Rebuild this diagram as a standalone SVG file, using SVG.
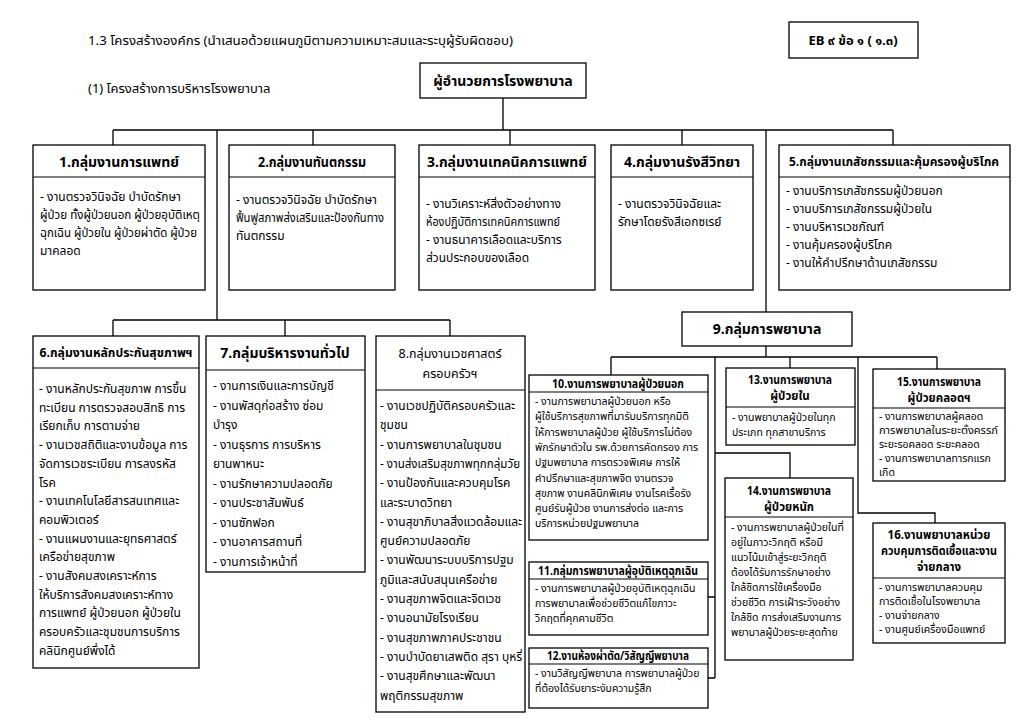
<svg xmlns="http://www.w3.org/2000/svg" width="1024" height="723" viewBox="0 0 1024 723">
<style>
text{font-family:'Noto Sans Thai','Noto Sans','DejaVu Sans','Liberation Sans',sans-serif;fill:#000}
.box{fill:#fff;stroke:#000;stroke-width:1.3}
.hl{stroke:#000;stroke-width:1.2}
.cn{fill:none;stroke:#000;stroke-width:1.3}
.t{font-size:14px;font-weight:bold;text-anchor:middle}
.ts{font-size:11.5px;font-weight:bold;text-anchor:middle}
.b{font-size:12px}
.s{font-size:10.5px}
.h{font-size:13px}
</style>
<rect width="1024" height="723" fill="#fff"/>
<text class="h" x="88" y="45" textLength="425" lengthAdjust="spacingAndGlyphs">1.3  โครงสร้างองค์กร (นำเสนอด้วยแผนภูมิตามความเหมาะสมและระบุผู้รับผิดชอบ)</text>
<text class="h" x="88" y="93">(1) โครงสร้างการบริหารโรงพยาบาล</text>
<g id="eb"><rect class="box" x="789" y="22" width="129" height="36" stroke-width="2"/><text class="t" x="853" y="45" style="font-size:13px">EB ๙ ข้อ ๑ ( ๑.๓)</text></g>

<g id="connectors" class="cn">
<path d="M503 98V130M113 130H893M113 130V145M313 130V145M510 130V145M682 130V145M893 130V145M766 130V312M217 130V320M113 320H450M113 320V336M285 320V336M450 320V336"/>
<path d="M766 346V357M611 357H937M611 357V375M790 357V368M937 357V369M715 357V678M715 453H790V478M708 597H715M708 678H715M858 357V513H935V523"/>
</g>

<g id="director"><rect class="box" x="420" y="63" width="166" height="35"/><text class="t" x="503" y="86">ผู้อำนวยการโรงพยาบาล</text></g>

<g id="n1"><rect class="box" x="33" y="145" width="172" height="145"/><line class="hl" x1="33" y1="177" x2="205" y2="177"/>
<text class="t" x="119" y="167">1.กลุ่มงานการแพทย์</text>
<text class="b" x="40" y="201">- งานตรวจวินิจฉัย บำบัดรักษา</text>
<text class="b" x="40" y="219" textLength="160" lengthAdjust="spacingAndGlyphs">ผู้ป่วย ทั้งผู้ป่วยนอก ผู้ป่วยอุบัติเหตุ</text>
<text class="b" x="40" y="237" textLength="157" lengthAdjust="spacingAndGlyphs">ฉุกเฉิน ผู้ป่วยใน ผู้ป่วยผ่าตัด ผู้ป่วย</text>
<text class="b" x="40" y="255">มาคลอด</text></g>

<g id="n2"><rect class="box" x="229" y="145" width="166" height="145"/><line class="hl" x1="229" y1="177" x2="395" y2="177"/>
<text class="t" x="312" y="167" textLength="108" lengthAdjust="spacingAndGlyphs">2.กลุ่มงานทันตกรรม</text>
<text class="b" x="236" y="204">- งานตรวจวินิจฉัย บำบัดรักษา</text>
<text class="b" x="236" y="222" textLength="148" lengthAdjust="spacingAndGlyphs">ฟื้นฟูสภาพส่งเสริมและป้องกันทาง</text>
<text class="b" x="236" y="240">ทันตกรรม</text></g>

<g id="n3"><rect class="box" x="419" y="145" width="176" height="145"/><line class="hl" x1="419" y1="177" x2="595" y2="177"/>
<text class="t" x="507" y="167" textLength="160" lengthAdjust="spacingAndGlyphs">3.กลุ่มงานเทคนิคการแพทย์</text>
<text class="b" x="426" y="208">- งานวิเคราะห์สิ่งตัวอย่างทาง</text>
<text class="b" x="426" y="226" textLength="134" lengthAdjust="spacingAndGlyphs">ห้องปฏิบัติการเทคนิคการแพทย์</text>
<text class="b" x="426" y="244">- งานธนาคารเลือดและบริการ</text>
<text class="b" x="426" y="262">ส่วนประกอบของเลือด</text></g>

<g id="n4"><rect class="box" x="611" y="145" width="142" height="145"/><line class="hl" x1="611" y1="177" x2="753" y2="177"/>
<text class="t" x="682" y="167">4.กลุ่มงานรังสีวิทยา</text>
<text class="b"><tspan x="618" y="208">- งานตรวจวินิจฉัยและ</tspan><tspan x="618" y="226">รักษาโดยรังสีเอกซเรย์</tspan></text></g>

<g id="n5"><rect class="box" x="779" y="145" width="231" height="145"/><line class="hl" x1="779" y1="177" x2="1010" y2="177"/>
<text class="t" x="894" y="166" style="font-size:12.5px" textLength="210" lengthAdjust="spacingAndGlyphs">5.กลุ่มงานเภสัชกรรมและคุ้มครองผู้บริโภค</text>
<text class="b"><tspan x="786" y="195">- งานบริการเภสัชกรรมผู้ป่วยนอก</tspan><tspan x="786" y="213">- งานบริการเภสัชกรรมผู้ป่วยใน</tspan><tspan x="786" y="231">- งานบริหารเวชภัณฑ์</tspan><tspan x="786" y="249">- งานคุ้มครองผู้บริโภค</tspan><tspan x="786" y="267">- งานให้คำปรึกษาด้านเภสัชกรรม</tspan></text></g>

<g id="n6"><rect class="box" x="33" y="336" width="166" height="332"/><line class="hl" x1="33" y1="368" x2="199" y2="368"/>
<text class="t" x="116" y="357" style="font-size:13px" textLength="153" lengthAdjust="spacingAndGlyphs">6.กลุ่มงานหลักประกันสุขภาพฯ</text>
<text class="b"><tspan x="39" y="393">- งานหลักประกันสุขภาพ การขึ้น</tspan><tspan x="39" y="411.7">ทะเบียน การตรวจสอบสิทธิ การ</tspan><tspan x="39" y="430.4">เรียกเก็บ การตามจ่าย</tspan><tspan x="39" y="449.1">- งานเวชสถิติและงานข้อมูล การ</tspan><tspan x="39" y="467.8">จัดการเวชระเบียน การลงรหัส</tspan><tspan x="39" y="486.5">โรค</tspan><tspan x="39" y="505.2">- งานเทคโนโลยีสารสนเทศและ</tspan><tspan x="39" y="523.9">คอมพิวเตอร์</tspan><tspan x="39" y="542.6">- งานแผนงานและยุทธศาสตร์</tspan><tspan x="39" y="561.3">เครือข่ายสุขภาพ</tspan><tspan x="39" y="580">- งานสังคมสงเคราะห์การ</tspan><tspan x="39" y="598.7">ให้บริการสังคมสงเคราะห์ทาง</tspan><tspan x="39" y="617.4">การแพทย์ ผู้ป่วยนอก ผู้ป่วยใน</tspan><tspan x="39" y="636.1">ครอบครัวและชุมชนการบริการ</tspan><tspan x="39" y="654.8">คลินิกศูนย์พึ่งได้</tspan></text></g>

<g id="n7"><rect class="box" x="206" y="336" width="159" height="236"/><line class="hl" x1="206" y1="370" x2="365" y2="370"/>
<text class="t" x="285" y="358">7.กลุ่มบริหารงานทั่วไป</text>
<text class="b"><tspan x="213" y="390">- งานการเงินและการบัญชี</tspan><tspan x="213" y="409.5">- งานพัสดุก่อสร้าง ซ่อม</tspan><tspan x="213" y="429">บำรุง</tspan><tspan x="213" y="448.5">- งานธุรการ การบริหาร</tspan><tspan x="213" y="468">ยานพาหนะ</tspan><tspan x="213" y="487.5">- งานรักษาความปลอดภัย</tspan><tspan x="213" y="507">- งานประชาสัมพันธ์</tspan><tspan x="213" y="526.5">- งานซักฟอก</tspan><tspan x="213" y="546">- งานอาคารสถานที่</tspan><tspan x="213" y="565.5">- งานการเจ้าหน้าที่</tspan></text></g>

<g id="n8"><rect class="box" x="376" y="336" width="149" height="376"/><line class="hl" x1="376" y1="390" x2="525" y2="390"/>
<text x="450" y="358" font-size="12.5" text-anchor="middle">8.กลุ่มงานเวชศาสตร์</text>
<text x="450" y="378" font-size="12.5" text-anchor="middle">ครอบครัวฯ</text>
<text class="b"><tspan x="380" y="410">- งานเวชปฏิบัติครอบครัวและ</tspan><tspan x="380" y="429.3">ชุมชน</tspan><tspan x="380" y="448.6">- งานการพยาบาลในชุมชน</tspan></text>
<text class="b" x="380" y="467.9" textLength="140" lengthAdjust="spacingAndGlyphs">- งานส่งเสริมสุขภาพทุกกลุ่มวัย</text>
<text class="b"><tspan x="380" y="487.2">- งานป้องกันและควบคุมโรค</tspan><tspan x="380" y="506.5">และระบาดวิทยา</tspan><tspan x="380" y="525.8">- งานสุขาภิบาลสิ่งแวดล้อมและ</tspan><tspan x="380" y="545.1">ศูนย์ความปลอดภัย</tspan><tspan x="380" y="564.4">- งานพัฒนาระบบบริการปฐม</tspan><tspan x="380" y="583.7">ภูมิและสนับสนุนเครือข่าย</tspan><tspan x="380" y="603">- งานสุขภาพจิตและจิตเวช</tspan><tspan x="380" y="622.3">- งานอนามัยโรงเรียน</tspan><tspan x="380" y="641.6">- งานสุขภาพภาคประชาชน</tspan><tspan x="380" y="660.9">- งานบำบัดยาเสพติด สุรา บุหรี่</tspan><tspan x="380" y="680.2">- งานสุขศึกษาและพัฒนา</tspan><tspan x="380" y="699.5">พฤติกรรมสุขภาพ</tspan></text></g>

<g id="n9"><rect class="box" x="682" y="312" width="170" height="34"/><text class="t" x="767" y="334">9.กลุ่มการพยาบาล</text></g>

<g id="n10"><rect class="box" x="529" y="375" width="179" height="165"/><line class="hl" x1="529" y1="392" x2="708" y2="392"/>
<text class="ts" x="618" y="388" textLength="132" lengthAdjust="spacingAndGlyphs">10.งานการพยาบาลผู้ป่วยนอก</text>
<text class="s"><tspan x="535" y="405">- งานการพยาบาลผู้ป่วยนอก หรือ</tspan><tspan x="535" y="420.3">ผู้ใช้บริการสุขภาพที่มารับบริการทุกมิติ</tspan><tspan x="535" y="435.6">ให้การพยาบาลผู้ป่วย ผู้ใช้บริการไม่ต้อง</tspan><tspan x="535" y="450.9">พักรักษาตัวใน รพ.ด้วยการคัดกรอง การ</tspan><tspan x="535" y="466.2">ปฐมพยาบาล การตรวจพิเศษ การให้</tspan><tspan x="535" y="481.5">คำปรึกษาและสุขภาพจิต งานตรวจ</tspan><tspan x="535" y="496.8">สุขภาพ งานคลินิกพิเศษ งานโรคเรื้อรัง</tspan><tspan x="535" y="512.1">ศูนย์รับผู้ป่วย งานการส่งต่อ และการ</tspan><tspan x="535" y="527.4">บริการหน่วยปฐมพยาบาล</tspan></text></g>

<g id="n11"><rect class="box" x="529" y="562" width="179" height="73"/><line class="hl" x1="529" y1="579" x2="708" y2="579"/>
<text class="ts" x="618" y="575" textLength="160" lengthAdjust="spacingAndGlyphs">11.กลุ่มการพยาบาลผู้อุบัติเหตุฉุกเฉิน</text>
<text class="s"><tspan x="535" y="592">-  งานการพยาบาลผู้ป่วยอุบัติเหตุฉุกเฉิน</tspan><tspan x="535" y="607">การพยาบาลเพื่อช่วยชีวิตแก้ไขภาวะ</tspan><tspan x="535" y="622">วิกฤตที่คุกคามชีวิต</tspan></text></g>

<g id="n12"><rect class="box" x="529" y="648" width="179" height="60"/><line class="hl" x1="529" y1="664" x2="708" y2="664"/>
<text class="ts" x="618" y="660" textLength="142" lengthAdjust="spacingAndGlyphs">12.งานห้องผ่าตัด/วิสัญญีพยาบาล</text>
<text class="s"><tspan x="535" y="677">- งานวิสัญญีพยาบาล การพยาบาลผู้ป่วย</tspan><tspan x="535" y="692">ที่ต้องได้รับยาระงับความรู้สึก</tspan></text></g>

<g id="n13"><rect class="box" x="726" y="368" width="129" height="77"/><line class="hl" x1="726" y1="407" x2="855" y2="407"/>
<text class="ts" x="790" y="384" textLength="84" lengthAdjust="spacingAndGlyphs">13.งานการพยาบาล</text><text class="ts" x="790" y="400">ผู้ป่วยใน</text>
<text class="s"><tspan x="732" y="421">- งานพยาบาลผู้ป่วยในทุก</tspan><tspan x="732" y="436">ประเภท ทุกสาขาบริการ</tspan></text></g>

<g id="n14"><rect class="box" x="725" y="478" width="128" height="182"/><line class="hl" x1="725" y1="517" x2="853" y2="517"/>
<text class="ts" x="789" y="495" textLength="84" lengthAdjust="spacingAndGlyphs">14.งานการพยาบาล</text><text class="ts" x="789" y="511">ผู้ป่วยหนัก</text>
<text class="s"><tspan x="731" y="531">- งานการพยาบาลผู้ป่วยในที่</tspan><tspan x="731" y="546">อยู่ในภาวะวิกฤติ หรือมี</tspan><tspan x="731" y="561">แนวโน้มเข้าสู่ระยะวิกฤติ</tspan><tspan x="731" y="576">ต้องได้รับการรักษาอย่าง</tspan><tspan x="731" y="591">ใกล้ชิดการใช้เครื่องมือ</tspan><tspan x="731" y="606">ช่วยชีวิต การเฝ้าระวังอย่าง</tspan><tspan x="731" y="621">ใกล้ชิด การส่งเสริมงานการ</tspan><tspan x="731" y="636">พยาบาลผู้ป่วยระยะสุดท้าย</tspan></text></g>

<g id="n15"><rect class="box" x="873" y="369" width="132" height="112"/><line class="hl" x1="873" y1="408" x2="1005" y2="408"/>
<text class="ts" x="939" y="386" textLength="84" lengthAdjust="spacingAndGlyphs">15.งานการพยาบาล</text><text class="ts" x="939" y="402">ผู้ป่วยคลอดฯ</text>
<text class="s" x="879" y="420">- งานการพยาบาลผู้คลอด</text>
<text class="s" x="879" y="434" textLength="119" lengthAdjust="spacingAndGlyphs">การพยาบาลในระยะตั้งครรภ์</text>
<text class="s"><tspan x="879" y="448">ระยะรอคลอด ระยะคลอด</tspan><tspan x="879" y="462">- งานการพยาบาลทารกแรก</tspan><tspan x="879" y="476">เกิด</tspan></text></g>

<g id="n16"><rect class="box" x="873" y="523" width="132" height="120"/><line class="hl" x1="873" y1="578" x2="1005" y2="578"/>
<text class="ts" x="939" y="539">16.งานพยาบาลหน่วย</text><text class="ts" x="939" y="555" textLength="116" lengthAdjust="spacingAndGlyphs">ควบคุมการติดเชื้อและงาน</text><text class="ts" x="939" y="571">จ่ายกลาง</text>
<text class="s"><tspan x="879" y="591">- งานการพยาบาลควบคุม</tspan><tspan x="879" y="605">การติดเชื้อในโรงพยาบาล</tspan><tspan x="879" y="619">- งานจ่ายกลาง</tspan><tspan x="879" y="633">- งานศูนย์เครื่องมือแพทย์</tspan></text></g>
</svg>
